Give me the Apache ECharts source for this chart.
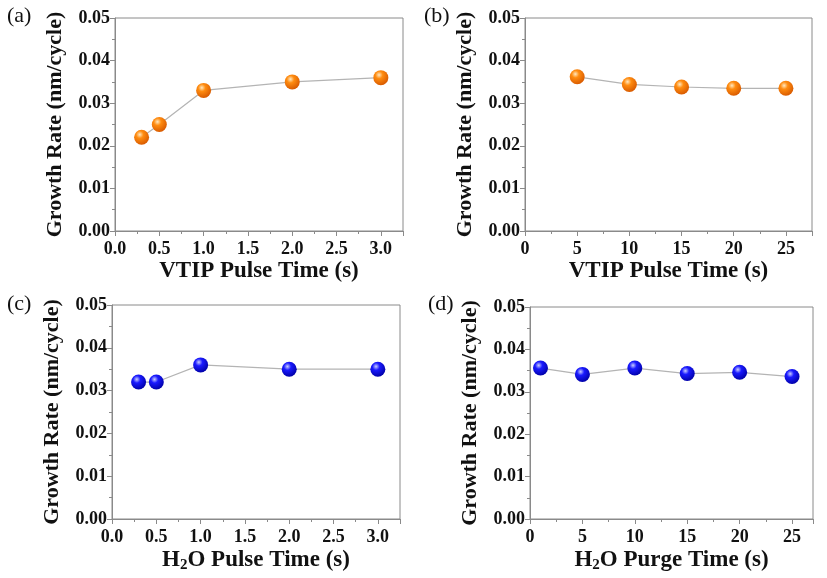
<!DOCTYPE html>
<html>
<head>
<meta charset="utf-8">
<script src="https://cdn.jsdelivr.net/npm/echarts@6/dist/echarts.min.js"></script>
<style>
  html, body { margin: 0; padding: 0; background: #fff; }
  #main { width: 827px; height: 578px; }
</style>
</head>
<body>
<div id="main"></div>
<script>
// (a) VTIP pulse time
var vtipPulse = [0.3, 0.5, 1.0, 2.0, 3.0];
var rateA = [0.022, 0.025, 0.033, 0.035, 0.036];
// (b) VTIP purge time (label says pulse)
var vtipPurge = [5, 10, 15, 20, 25];
var rateB = [0.0362, 0.0344, 0.0338, 0.0335, 0.0335];
// (c) H2O pulse time
var h2oPulse = [0.3, 0.5, 1.0, 2.0, 3.0];
var rateC = [0.032, 0.032, 0.036, 0.035, 0.035];
// (d) H2O purge time
var h2oPurge = [1, 5, 10, 15, 20, 25];
var rateD = [0.0356, 0.0341, 0.0356, 0.0343, 0.0346, 0.0336];

var yTicks = ['0.00', '0.01', '0.02', '0.03', '0.04', '0.05'];

function pairs(xs, ys) {
  var out = [];
  for (var i = 0; i < xs.length; i++) out.push([xs[i], ys[i]]);
  return out;
}

function sphere(c0, c1, c2) {
  return new echarts.graphic.RadialGradient(0.38, 0.32, 0.7, [
    { offset: 0, color: c0 },
    { offset: 0.35, color: c1 },
    { offset: 1, color: c2 }
  ]);
}
var orange = sphere('#ffe8c0', '#ff8c10', '#d85a00');
var blue = sphere('#c8ccff', '#1a1aff', '#0000a8');

var axisGray = '#8a8a8a';
var serif = 'Liberation Serif';

function xAxisOf(idx, max, interval, decimals, name) {
  return {
    gridIndex: idx, type: 'value', min: 0, max: max, interval: interval,
    axisLine: { show: true, lineStyle: { color: axisGray, width: 1 } },
    axisTick: { show: true, inside: false, length: 5, lineStyle: { color: axisGray } },
    minorTick: { show: true, splitNumber: 2, length: 3, lineStyle: { color: axisGray } },
    splitLine: { show: false },
    axisLabel: {
      color: '#111', fontFamily: serif, fontWeight: 'bold', fontSize: 18, margin: 9,
      showMaxLabel: false,
      formatter: function (v) { return v.toFixed(decimals); }
    },
    name: name, nameLocation: 'middle', nameGap: 29,
    nameTextStyle: {
      color: '#111', fontFamily: serif, fontWeight: 'bold', fontSize: 23,
      rich: {
        b: { fontFamily: serif, fontWeight: 'bold', fontSize: 23, color: '#111' },
        sub: { fontFamily: serif, fontWeight: 'bold', fontSize: 15, color: '#111', verticalAlign: 'bottom', padding: [10, 0, 0, 0] }
      }
    }
  };
}

function yAxisOf(idx) {
  return {
    gridIndex: idx, type: 'value', min: 0, max: 0.05, interval: 0.01,
    axisLine: { show: true, lineStyle: { color: axisGray, width: 1 } },
    axisTick: { show: true, inside: false, length: 5, lineStyle: { color: axisGray } },
    minorTick: { show: true, splitNumber: 2, length: 3, lineStyle: { color: axisGray } },
    splitLine: { show: false },
    axisLabel: {
      color: '#111', fontFamily: serif, fontWeight: 'bold', fontSize: 18, margin: 5,
      formatter: function (v) { return yTicks[Math.round(v * 100)]; }
    },
    name: 'Growth Rate (nm/cycle)', nameLocation: 'middle', nameGap: 49, nameRotate: 90,
    nameTextStyle: { color: '#111', fontFamily: serif, fontWeight: 'bold', fontSize: 22 }
  };
}

function seriesOf(idx, data, color) {
  return {
    type: 'line', xAxisIndex: idx, yAxisIndex: idx, data: data,
    symbol: 'circle', symbolSize: 15,
    itemStyle: { color: color },
    lineStyle: { color: '#b4b4b4', width: 1.2 },
    silent: true, animation: false, z: 3
  };
}

var gridBase = { show: true, borderColor: axisGray, borderWidth: 1, backgroundColor: 'transparent' };

var myChart = echarts.init(document.getElementById('main'));
myChart.setOption({
  backgroundColor: '#fff',
  animation: false,
  graphic: [
    { type: 'text', left: 7, top: 5, style: { text: '(a)', font: '22px "Liberation Serif"', fill: '#111' } },
    { type: 'text', left: 424, top: 5, style: { text: '(b)', font: '22px "Liberation Serif"', fill: '#111' } },
    { type: 'text', left: 7, top: 293, style: { text: '(c)', font: '22px "Liberation Serif"', fill: '#111' } },
    { type: 'text', left: 428, top: 293, style: { text: '(d)', font: '22px "Liberation Serif"', fill: '#111' } }
  ],
  grid: [
    Object.assign({ left: 115, top: 18, width: 288, height: 213 }, gridBase),
    Object.assign({ left: 525, top: 18, width: 287, height: 213 }, gridBase),
    Object.assign({ left: 112, top: 305, width: 288, height: 214 }, gridBase),
    Object.assign({ left: 530, top: 307, width: 283, height: 212 }, gridBase)
  ],
  xAxis: [
    xAxisOf(0, 3.25, 0.5, 1, 'VTIP Pulse Time (s)'),
    xAxisOf(1, 27.5, 5, 0, 'VTIP Pulse Time (s)'),
    xAxisOf(2, 3.25, 0.5, 1, '{b|H}{sub|2}{b|O Pulse Time (s)}'),
    xAxisOf(3, 27, 5, 0, '{b|H}{sub|2}{b|O Purge Time (s)}')
  ],
  yAxis: [yAxisOf(0), yAxisOf(1), yAxisOf(2), yAxisOf(3)],
  series: [
    seriesOf(0, pairs(vtipPulse, rateA), orange),
    seriesOf(1, pairs(vtipPurge, rateB), orange),
    seriesOf(2, pairs(h2oPulse, rateC), blue),
    seriesOf(3, pairs(h2oPurge, rateD), blue)
  ]
});
</script>
</body>
</html>
